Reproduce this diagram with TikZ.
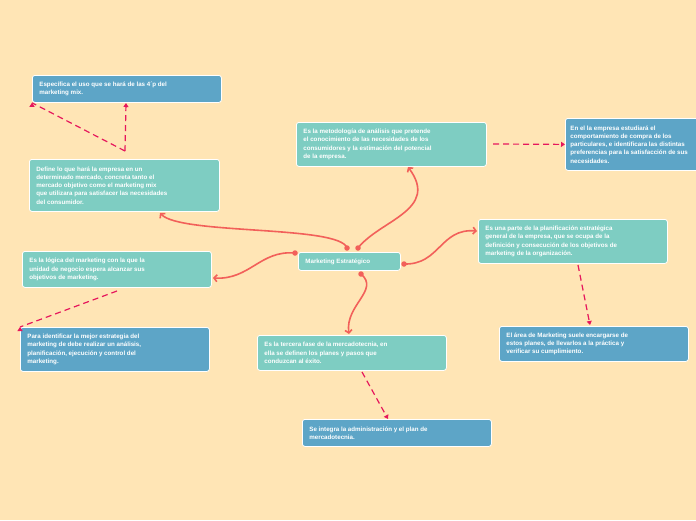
\documentclass[tikz,border=0pt]{standalone}
\usepackage{fontspec}
\setmainfont{Liberation Sans}
\usetikzlibrary{arrows.meta}
\definecolor{bg}{HTML}{FFE5B5}
\definecolor{teal}{HTML}{7ECDC2}
\definecolor{blu}{HTML}{5DA5C7}
\definecolor{coral}{HTML}{F2605A}
\definecolor{mag}{HTML}{E6175C}
\tikzset{
 box/.style={draw=white,line width=0.8pt,rounded corners=2.5pt,anchor=north west,inner sep=0pt,text=white,font=\bfseries\fontsize{6.2}{8.3}\selectfont,align=left},
 tbox/.style={box,fill=teal},
 bbox/.style={box,fill=blu},
 sol/.style={coral,line width=1.6pt,-{Straight Barb[length=3pt,width=7pt]}},
 dsh/.style={mag,line width=1.2pt,dash pattern=on 6pt off 4pt,-{Triangle[length=4pt,width=5pt]}},
 dotc/.style={circle,fill=coral,inner sep=0pt,minimum size=5.5pt}
}
\begin{document}
\begin{tikzpicture}[x=1pt,y=-1pt]
\fill[bg] (0,0) rectangle (696,520);
\clip (0,0) rectangle (696,520);
\node[bbox,minimum width=189pt,minimum height=27pt] (A) at (32,75) {\parbox[t][27pt][c]{175pt}{Específica el uso que se hará de las 4´p del\\marketing mix.}};
\node[tbox,minimum width=190pt,minimum height=52pt] (B) at (29,159) {\parbox[t][52pt][c]{176pt}{Define lo que hará la empresa en un\\determinado mercado, concreta tanto el\\mercado objetivo como el marketing mix\\que utilizara para satisfacer las necesidades\\del consumidor.}};
\node[tbox,minimum width=190pt,minimum height=44pt] (C) at (296,122) {\parbox[t][44pt][c]{176pt}{Es la metodología de análisis que pretende\\el conocimiento de las necesidades de los\\consumidores y la estimación del potencial\\de la empresa.}};
\node[bbox,minimum width=150pt,minimum height=52pt] (D) at (565,118) {\parbox[t][52pt][c]{140pt}{En el la empresa estudiará el\\comportamiento de compra de los\\particulares, e identificara las distintas\\preferencias para la satisfacción de sus\\necesidades.}};
\node[tbox,minimum width=102pt,minimum height=18pt] (M) at (298,252) {\parbox[t][18pt][c]{88pt}{Marketing Estratégico}};
\node[tbox,minimum width=189pt,minimum height=36pt] (E) at (22,251) {\parbox[t][36pt][c]{175pt}{Es la lógica del marketing con la que la\\unidad de negocio espera alcanzar sus\\objetivos de marketing.}};
\node[bbox,minimum width=189pt,minimum height=44pt] (F) at (20,327) {\parbox[t][44pt][c]{175pt}{Para identificar la mejor estrategia del\\marketing de debe realizar un análisis,\\planificación, ejecución y control del\\marketing.}};
\node[tbox,minimum width=189pt,minimum height=44pt] (G) at (478,219) {\parbox[t][44pt][c]{175pt}{Es una parte de la planificación estratégica\\general de la empresa, que se ocupa de la\\definición y consecución de los objetivos de\\marketing de la organización.}};
\node[bbox,minimum width=189pt,minimum height=35pt] (H) at (499,326) {\parbox[t][35pt][c]{175pt}{El área de Marketing suele encargarse de\\estos planes, de llevarlos a la práctica y\\verificar su cumplimiento.}};
\node[tbox,minimum width=189pt,minimum height=35pt] (I) at (257,335) {\parbox[t][35pt][c]{175pt}{Es la tercera fase de la mercadotecnia, en\\ella se definen los planes y pasos que\\conduzcan al éxito.}};
\node[bbox,minimum width=189pt,minimum height=27pt] (J) at (302,419) {\parbox[t][27pt][c]{175pt}{Se integra la administración y el plan de\\mercadotecnia.}};
\coordinate (m1) at (347,248);
\coordinate (m2) at (358,248);
\coordinate (m3) at (295,253);
\coordinate (m4) at (404,264);
\coordinate (m5) at (361,274);
\draw[sol] (m1) .. controls (340,225) and (180,235) .. (160,213);
\draw[sol] (m2) .. controls (380,220) and (440,210) .. (408,167);
\draw[sol] (m3) .. controls (260,250) and (250,280) .. (213,278);
\draw[sol] (m4) .. controls (440,265) and (440,228) .. (477,231);
\draw[sol] (m5) .. controls (380,290) and (345,305) .. (349,334);
\foreach \p in {m1,m2,m3,m4,m5} \node[dotc] at (\p) {};
\draw[dsh] (B.north west) ++(96,-8) -- (A.south west) ++(0,0);
\draw[dsh] (125,151) -- (126,103);
\draw[dsh] (493,144) -- (D.west);
\draw[dsh] (117,291) -- (F.north west) ++(0,0);
\draw[dsh] (578,265) -- (590,325);
\draw[dsh] (362,372) -- (388,419);
\end{tikzpicture}
\end{document}
